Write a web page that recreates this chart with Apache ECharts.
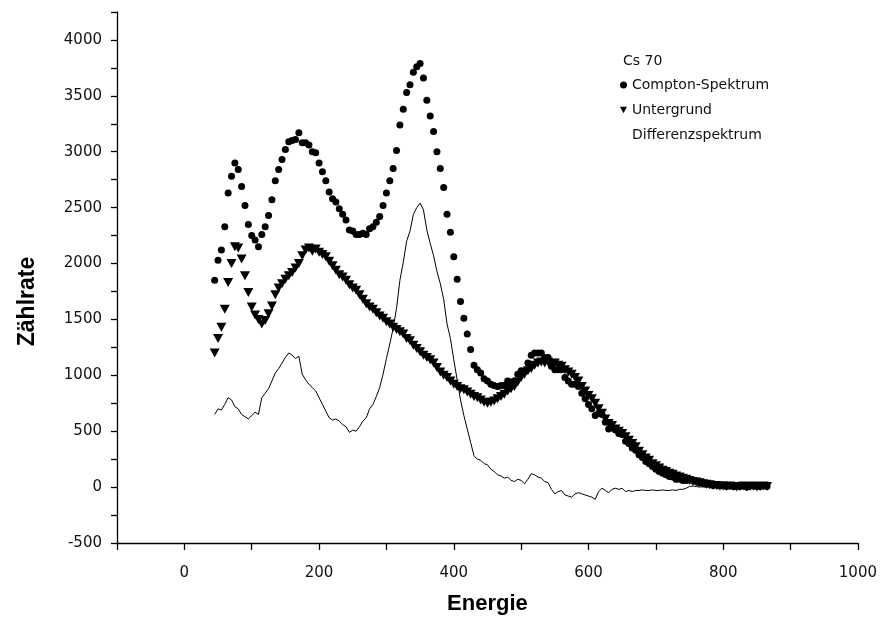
<!DOCTYPE html>
<html>
<head>
<meta charset="utf-8">
<script src="https://cdn.jsdelivr.net/npm/echarts@6/dist/echarts.min.js"></script>
<style>
  html, body { margin: 0; padding: 0; background: #fff; }
  #chart { width: 880px; height: 625px; }
</style>
</head>
<body>
<div id="chart"></div>
<script>
// Cs 70: Compton spectrum, background and difference spectrum
const energie = [
  45, 50, 55, 60, 65, 70, 75, 80, 85, 90,
  95, 100, 105, 110, 115, 120, 125, 130, 135, 140,
  145, 150, 155, 160, 165, 170, 175, 180, 185, 190,
  195, 200, 205, 210, 215, 220, 225, 230, 235, 240,
  245, 250, 255, 260, 265, 270, 275, 280, 285, 290,
  295, 300, 305, 310, 315, 320, 325, 330, 335, 340,
  345, 350, 355, 360, 365, 370, 375, 380, 385, 390,
  395, 400, 405, 410, 415, 420, 425, 430, 435, 440,
  445, 450, 455, 460, 465, 470, 475, 480, 485, 490,
  495, 500, 505, 510, 515, 520, 525, 530, 535, 540,
  545, 550, 555, 560, 565, 570, 575, 580, 585, 590,
  595, 600, 605, 610, 615, 620, 625, 630, 635, 640,
  645, 650, 655, 660, 665, 670, 675, 680, 685, 690,
  695, 700, 705, 710, 715, 720, 725, 730, 735, 740,
  745, 750, 755, 760, 765, 770, 775, 780, 785, 790,
  795, 800, 805, 810, 815, 820, 825, 830, 835, 840,
  845, 850, 855, 860, 865
];

const comptonSpektrum = [
  1850, 2030, 2120, 2330, 2630, 2780, 2900, 2840, 2690, 2520,
  2350, 2250, 2210, 2150, 2260, 2330, 2430, 2570, 2740, 2840,
  2930, 3020, 3090, 3100, 3110, 3170, 3080, 3080, 3060, 3000,
  2990, 2900, 2820, 2740, 2640, 2580, 2550, 2490, 2440, 2390,
  2300, 2290, 2260, 2260, 2270, 2260, 2310, 2330, 2370, 2420,
  2520, 2630, 2740, 2850, 3010, 3240, 3380, 3530, 3600, 3710,
  3760, 3790, 3660, 3460, 3320, 3180, 3000, 2850, 2680, 2440,
  2280, 2060, 1860, 1660, 1510, 1370, 1230, 1090, 1050, 1020,
  970, 950, 920, 910, 900, 910, 910, 950, 940, 950,
  1010, 1040, 1040, 1110, 1180, 1200, 1200, 1200, 1160, 1160,
  1080, 1050, 1050, 1050, 980, 950, 920, 920, 900, 840,
  790, 740, 700, 640, 660, 650, 580, 520, 530, 510,
  480, 470, 410, 390, 350, 330, 290, 265, 230, 210,
  185, 160, 140, 125, 110, 95, 90, 70, 70, 60,
  60, 65, 60, 50, 40, 35, 25, 25, 15, 20,
  10, 15, 5, 15, 5, 5, 5, 15, 0, 10,
  10, 5, 5, 15, 5
];

const untergrund = [
  1200, 1330, 1430, 1590, 1830, 2000, 2150, 2140, 2040, 1890,
  1740, 1610, 1540, 1500, 1460, 1490, 1550, 1620, 1720, 1780,
  1820, 1860, 1890, 1920, 1960, 2000, 2070, 2120, 2140, 2110,
  2130, 2100, 2080, 2060, 2020, 1980, 1940, 1900, 1880, 1850,
  1810, 1780, 1760, 1720, 1680, 1640, 1610, 1590, 1560, 1530,
  1510, 1480, 1460, 1430, 1410, 1390, 1370, 1330, 1310, 1270,
  1240, 1210, 1180, 1160, 1140, 1110, 1070, 1030, 1000, 980,
  950, 920, 900, 880, 870, 850, 830, 810, 800, 780,
  760, 750, 760, 770, 790, 810, 830, 860, 880, 900,
  940, 980, 1010, 1040, 1060, 1090, 1110, 1120, 1110, 1120,
  1100, 1110, 1090, 1080, 1050, 1030, 1010, 980, 950, 900,
  860, 820, 790, 750, 700, 660, 610, 570, 550, 520,
  500, 480, 450, 420, 390, 360, 320, 290, 260, 240,
  210, 190, 170, 150, 140, 125, 115, 100, 90, 80,
  70, 60, 50, 45, 40, 30, 25, 20, 15, 15,
  10, 10, 5, 10, 5, 0, 5, 10, 0, 5,
  10, 0, 5, 10, 5
];

const differenzspektrum = [
  650, 700, 690, 740, 800, 780, 720, 700, 650, 630,
  610, 640, 670, 650, 800, 840, 880, 950, 1020, 1060,
  1110, 1160, 1200, 1180, 1150, 1170, 1010, 960, 920, 890,
  860, 800, 740, 680, 620, 600, 610, 590, 560, 540,
  490, 510, 500, 540, 590, 620, 700, 740, 810, 890,
  1010, 1150, 1280, 1420, 1600, 1850, 2010, 2200, 2290, 2440,
  2500, 2540, 2480, 2300, 2180, 2070, 1930, 1820, 1680, 1460,
  1330, 1140, 960, 780, 640, 520, 400, 280, 250, 240,
  210, 200, 160, 140, 110, 100, 80, 90, 60, 50,
  70, 60, 30, 70, 120, 110, 90, 80, 50, 40,
  -20, -60, -40, -30, -70, -80, -90, -60, -50, -60,
  -70, -80, -90, -110, -40, -10, -30, -50, -20, -10,
  -20, -10, -40, -30, -40, -30, -30, -25, -30, -30,
  -25, -30, -30, -25, -30, -30, -25, -30, -20, -20,
  -10, 5, 10, 5, 0, 5, 0, 5, 0, 5,
  0, 5, 0, 5, 0, 5, 0, 5, 0, 5,
  0, 5, 0, 5, 0
];

const xTicks = [0, 200, 400, 600, 800, 1000];
const yTicks = [-500, 0, 500, 1000, 1500, 2000, 2500, 3000, 3500, 4000];

const paare = (werte) => energie.map((e, i) => [e, werte[i]]);
const tickFont = { fontFamily: 'DejaVu Sans, sans-serif', fontSize: 15, color: '#111' };
const downTriangle = 'path://M0,0 L10,0 L5,9 Z';

const chart = echarts.init(document.getElementById('chart'), null, { renderer: 'canvas' });
chart.setOption({
  animation: false,
  backgroundColor: '#fff',
  title: {
    text: 'Cs 70',
    left: 618, top: 49,
    textStyle: { fontFamily: 'DejaVu Sans, sans-serif', fontSize: 14, fontWeight: 'normal', color: '#111' }
  },
  legend: {
    orient: 'vertical',
    left: 615, top: 72,
    itemWidth: 7, itemHeight: 7, itemGap: 9,
    selectedMode: false,
    textStyle: { fontFamily: 'DejaVu Sans, sans-serif', fontSize: 14, color: '#111', lineHeight: 16 },
    data: [
      { name: 'Compton-Spektrum', icon: 'circle' },
      { name: 'Untergrund', icon: downTriangle },
      { name: 'Differenzspektrum', icon: 'rect', itemStyle: { opacity: 0 } }
    ]
  },
  grid: { left: 117, right: 22, top: 12, bottom: 82, containLabel: false },
  xAxis: {
    type: 'value', min: -100, max: 1000, interval: 100,
    name: 'Energie', nameLocation: 'middle', nameGap: 50,
    nameTextStyle: { fontFamily: 'Liberation Sans, Arial, sans-serif', fontSize: 22, fontWeight: 'bold', color: '#000' },
    axisLine: { onZero: false, lineStyle: { color: '#000', width: 1.3 } },
    axisTick: { length: 7, lineStyle: { color: '#000', width: 1.3 } },
    axisLabel: Object.assign({ margin: 23, formatter: v => xTicks.includes(v) ? String(v) : '' }, tickFont),
    splitLine: { show: false }
  },
  yAxis: {
    type: 'value', min: -500, max: 4250, interval: 250,
    name: 'Zählrate', nameLocation: 'middle', nameGap: 78,
    nameTextStyle: { fontFamily: 'Liberation Sans, Arial, sans-serif', fontSize: 23, fontWeight: 'bold', color: '#000', padding: [0, 48, 0, 0] },
    axisLine: { show: true, onZero: false, lineStyle: { color: '#000', width: 1.3 } },
    axisTick: { show: true, length: 6, lineStyle: { color: '#000', width: 1.3 } },
    axisLabel: Object.assign({ margin: 15, formatter: v => yTicks.includes(v) ? String(v) : '' }, tickFont),
    splitLine: { show: false }
  },
  series: [
    {
      name: 'Compton-Spektrum', type: 'scatter', z: 3,
      symbol: 'circle', symbolSize: 7,
      itemStyle: { color: '#000', opacity: 1 },
      data: paare(comptonSpektrum)
    },
    {
      name: 'Untergrund', type: 'scatter', z: 3,
      symbol: downTriangle, symbolSize: [10, 9],
      itemStyle: { color: '#000', opacity: 1 },
      data: paare(untergrund)
    },
    {
      name: 'Differenzspektrum', type: 'line', z: 2,
      showSymbol: false, symbol: 'none',
      lineStyle: { color: '#000', width: 1 },
      itemStyle: { color: '#000' },
      data: paare(differenzspektrum)
    }
  ]
});
</script>
</body>
</html>
